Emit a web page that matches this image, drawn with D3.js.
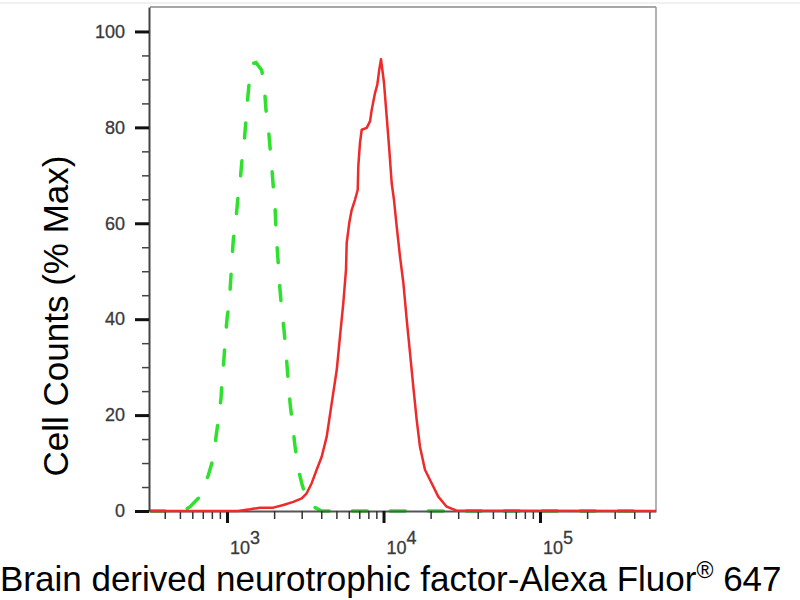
<!DOCTYPE html>
<html>
<head>
<meta charset="utf-8">
<script src="https://cdn.jsdelivr.net/npm/d3@7/dist/d3.min.js"></script>
<style>
  html, body { margin: 0; padding: 0; background: #fff; }
  svg { display: block; }
</style>
</head>
<body>
<svg id="chart" width="800" height="600"></svg>
<script>
// ---- Data (fluorescence intensity, % of max) ----
const isotypeX = [322, 385, 523, 581, 672, 760, 811, 851, 880, 916, 929, 957, 971, 1004, 1034, 1071, 1097, 1137, 1171, 1211, 1247, 1284, 1322, 1348, 1388, 1459, 1531, 1666, 1731, 1774, 1836, 1883, 1931, 1977, 2027, 2056, 2095, 2139, 2181, 2237, 2313, 2383, 2466, 2529, 2632, 2722, 2858, 3002, 3228, 3558, 4027, 6110, 22960, 551000];
const isotypeY = [0, 0, 0, 0.9, 3.0, 7.5, 10.6, 15.5, 19.0, 23.6, 27.3, 31.9, 35.3, 40.6, 43.4, 51.4, 56.6, 60.4, 64.9, 68.5, 73.3, 76.4, 81.6, 85.2, 89.6, 93.3, 93.5, 91.9, 88.6, 83.6, 80.0, 75.8, 71.9, 67.4, 63.5, 58.7, 54.5, 50.3, 46.1, 42.0, 37.8, 33.0, 26.7, 22.5, 17.6, 13.4, 8.6, 5.8, 2.3, 0.9, 0, 0, 0, 0];

const sampleX = [322, 1176, 1403, 1625, 1977, 2291, 2653, 3002, 3228, 3475, 3740, 4027, 4335, 4667, 5024, 5272, 5536, 5757, 5818, 6043, 6262, 6573, 6842, 6902, 7075, 7256, 7812, 8204, 8411, 8830, 9128, 9400, 9637, 10070, 10475, 10883, 11276, 11663, 12135, 12740, 13386, 14068, 14762, 15504, 16291, 17100, 18404, 20306, 22380, 25330, 29360, 551000];
const sampleY = [0, 0, 0.35, 0.7, 0.7, 1.25, 1.9, 2.65, 3.7, 5.8, 8.6, 11.3, 15.5, 22.5, 29.4, 36.4, 43.4, 50.3, 55.9, 60.1, 62.8, 64.9, 67.0, 71.9, 76.8, 79.5, 79.9, 81.3, 83.7, 87.2, 88.9, 92.1, 94.2, 89.3, 82.3, 75.4, 68.4, 64.9, 59.4, 53.1, 47.6, 39.9, 33.0, 25.9, 19.0, 13.4, 8.6, 5.8, 3.0, 0.9, 0.06, 0];

const xMajorTicks = [1e3, 1e4, 1e5];
const xTickBase = ["10", "10", "10"];
const xTickExponents = ["3", "4", "5"];
const yMajorTicks = [0, 20, 40, 60, 80, 100];
const yMinorTicks = [5, 10, 15, 25, 30, 35, 45, 50, 55, 65, 70, 75, 85, 90, 95];
const xDomain = [322, 551000];
const yDomain = [0, 105.1];
const xLabel = "Brain derived neurotrophic factor-Alexa Fluor";
const xLabelMark = "\u00AE";
const xLabelTail = " 647";
const yLabel = "Cell Counts (% Max)";

// ---- Layout ----
const L = 150, R = 656, T = 7, B = 511;
const FONT = "'Liberation Sans', Arial, sans-serif";
const svg = d3.select("#chart");

const x = d3.scaleLog().domain(xDomain).range([L, R]);
const y = d3.scaleLinear().domain(yDomain).range([B, T]);

// minor log ticks
const xMinorTicks = [];
for (let e = 2; e <= 5; e++) {
  for (let m = 2; m <= 9; m++) {
    const v = m * Math.pow(10, e);
    if (v > xDomain[0] && v < xDomain[1]) xMinorTicks.push(v);
  }
}

// faint top image border
svg.append("line").attr("x1", 0).attr("x2", 800).attr("y1", 3).attr("y2", 3)
  .attr("stroke", "#e2e2e2").attr("stroke-width", 1);

// frame top/right
svg.append("line").attr("x1", L).attr("x2", R).attr("y1", T).attr("y2", T)
  .attr("stroke", "#8a8a8a").attr("stroke-width", 1.5);
svg.append("line").attr("x1", R).attr("x2", R).attr("y1", T).attr("y2", B)
  .attr("stroke", "#9a9a9a").attr("stroke-width", 1.5);

// ---- Curves ----
const line = d3.line().x(d => x(d[0])).y(d => y(d[1])).curve(d3.curveLinear);

const isoData = isotypeX.map((v, i) => [v, isotypeY[i]]);
const samData = sampleX.map((v, i) => [v, sampleY[i]]);

svg.append("path").datum(isoData)
  .attr("d", line)
  .attr("fill", "none")
  .attr("stroke", "#2fe02f")
  .attr("stroke-width", 3.5)
  .attr("stroke-linecap", "round")
  .attr("stroke-dasharray", "15,23");

// ---- Axes ----
const xMinorAxis = d3.axisBottom(x).tickValues(xMinorTicks).tickSize(8).tickFormat("").tickSizeOuter(0);
const gxm = svg.append("g").attr("transform", `translate(0,${B})`).call(xMinorAxis);
gxm.select(".domain").attr("stroke", "#555").attr("stroke-width", 2);
gxm.selectAll(".tick line").attr("stroke", "#333").attr("stroke-width", 1.5);

const xMajorAxis = d3.axisBottom(x).tickValues(xMajorTicks).tickSize(12).tickFormat("").tickSizeOuter(0);
const gxM = svg.append("g").attr("transform", `translate(0,${B})`).call(xMajorAxis);
gxM.select(".domain").remove();
gxM.selectAll(".tick line").attr("stroke", "#111").attr("stroke-width", 3);

// red sample curve on top of axis baseline
svg.append("path").datum(samData)
  .attr("d", line)
  .attr("fill", "none")
  .attr("stroke", "#ee2a2a")
  .attr("stroke-width", 2.5)
  .attr("stroke-linejoin", "round");

const yMinorAxis = d3.axisLeft(y).tickValues(yMinorTicks).tickSize(7).tickFormat("").tickSizeOuter(0);
const gym = svg.append("g").attr("transform", `translate(${L - 1},0)`).call(yMinorAxis);
gym.select(".domain").attr("stroke", "#444").attr("stroke-width", 2);
gym.selectAll(".tick line").attr("stroke", "#444").attr("stroke-width", 1.5);

const yMajorAxis = d3.axisLeft(y).tickValues(yMajorTicks).tickSize(14).tickPadding(10)
  .tickFormat(d3.format("d")).tickSizeOuter(0);
const gyM = svg.append("g").attr("transform", `translate(${L - 1},0)`).call(yMajorAxis);
gyM.select(".domain").remove();
gyM.selectAll(".tick line").attr("stroke", "#111").attr("stroke-width", 3);
gyM.selectAll(".tick text")
  .attr("font-family", FONT)
  .attr("font-size", 18)
  .attr("fill", "#3a3a3a")
  .attr("stroke", "#3a3a3a")
  .attr("stroke-width", 0.3);

// x tick labels 10^n
const xt = svg.append("g");
xMajorTicks.forEach((v, i) => {
  const t = xt.append("text")
    .attr("x", x(v) + 3)
    .attr("y", 554)
    .attr("font-family", FONT)
    .attr("font-size", 18)
    .attr("fill", "#3a3a3a")
    .attr("stroke", "#3a3a3a")
    .attr("stroke-width", 0.3);
  t.append("tspan").text(xTickBase[i]);
  t.append("tspan").attr("dy", -10).text(xTickExponents[i]);
});

// ---- Axis titles ----
const xt2 = svg.append("text")
  .attr("x", 0)
  .attr("y", 591)
  .attr("font-family", FONT)
  .attr("font-size", 35)
  .attr("fill", "#000");
xt2.append("tspan").text(xLabel);
xt2.append("tspan").attr("font-size", 23).attr("dy", -13).text(xLabelMark);
xt2.append("tspan").attr("dy", 13).text(xLabelTail);

svg.append("text")
  .attr("transform", "translate(68,316) rotate(-90)")
  .attr("text-anchor", "middle")
  .attr("font-family", FONT)
  .attr("font-size", 35)
  .attr("fill", "#000")
  .text(yLabel);
</script>
</body>
</html>
